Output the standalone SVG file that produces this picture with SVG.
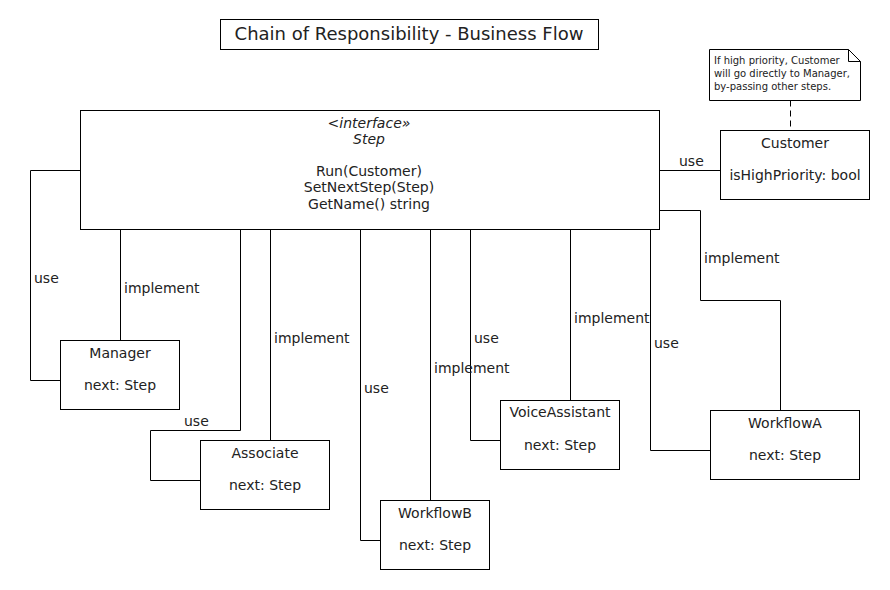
<svg xmlns="http://www.w3.org/2000/svg" width="890" height="590" viewBox="0 0 890 590">
<style>
text{font-family:"DejaVu Sans",sans-serif;font-size:14px;fill:#222}
.c{text-anchor:middle}
.i{font-style:italic}
.box{fill:#fff;stroke:#000;stroke-width:1}
.ln{fill:none;stroke:#000;stroke-width:1}
.note{font-size:10px}
</style>
<rect width="890" height="590" fill="#fff"/>
<g id="title">
<rect class="box" x="220.5" y="19.5" width="378" height="30"/>
<text class="c" x="409" y="40" style="font-size:18px">Chain of Responsibility - Business Flow</text>
</g>
<g id="connectors">
<path class="ln" d="M659.5,170.5H720.5"/>
<text x="679" y="166">use</text>
<path class="ln" d="M659.5,210.5H700.5V300.5H780.5V410.5"/>
<text x="704" y="263">implement</text>
<path class="ln" d="M650.5,229.5V450.5H710.5"/>
<text x="654" y="348">use</text>
<path class="ln" d="M570.5,229.5V400.5"/>
<text x="574" y="323">implement</text>
<path class="ln" d="M470.5,229.5V440.5H500.5"/>
<text x="474" y="343">use</text>
<path class="ln" d="M430.5,229.5V500.5"/>
<text x="434" y="373">implement</text>
<path class="ln" d="M360.5,229.5V540.5H380.5"/>
<text x="364" y="393">use</text>
<path class="ln" d="M270.5,229.5V440.5"/>
<text x="274" y="343">implement</text>
<path class="ln" d="M240.5,229.5V430.5H150.5V480.5H200.5"/>
<text x="184" y="426">use</text>
<path class="ln" d="M120.5,229.5V340.5"/>
<text x="124" y="293">implement</text>
<path class="ln" d="M80.5,170.5H30.5V380.5H60.5"/>
<text x="34" y="283">use</text>
<path class="ln" d="M790.5,100.5V130.5" stroke-dasharray="6,4"/>
</g>
<g id="Step">
<rect class="box" x="80.5" y="110.5" width="579" height="119"/>
<text class="c i" x="369" y="128">&lt;interface»</text>
<text class="c i" x="369" y="144">Step</text>
<text class="c" x="369" y="176">Run(Customer)</text>
<text class="c" x="369" y="192">SetNextStep(Step)</text>
<text class="c" x="369" y="209">GetName() string</text>
</g>
<g id="note">
<path class="box" d="M709.5,49.5H848.5L860.5,61.5V100.5H709.5Z"/>
<path class="ln" d="M848.5,49.5V61.5H860.5"/>
<text class="note" x="714" y="64">If high priority, Customer</text>
<text class="note" x="714" y="77">will go directly to Manager,</text>
<text class="note" x="714" y="90">by-passing other steps.</text>
</g>
<g id="Customer">
<rect class="box" x="720.5" y="130.5" width="149" height="69"/>
<text class="c" x="795" y="148">Customer</text>
<text class="c" x="795" y="180">isHighPriority: bool</text>
</g>
<g id="WorkflowA">
<rect class="box" x="710.5" y="410.5" width="149" height="69"/>
<text class="c" x="785" y="428">WorkflowA</text>
<text class="c" x="785" y="460">next: Step</text>
</g>
<g id="VoiceAssistant">
<rect class="box" x="500.5" y="400.5" width="119" height="69"/>
<text class="c" x="560" y="417">VoiceAssistant</text>
<text class="c" x="560" y="450">next: Step</text>
</g>
<g id="WorkflowB">
<rect class="box" x="380.5" y="500.5" width="109" height="69"/>
<text class="c" x="435" y="518">WorkflowB</text>
<text class="c" x="435" y="550">next: Step</text>
</g>
<g id="Associate">
<rect class="box" x="200.5" y="440.5" width="129" height="69"/>
<text class="c" x="265" y="458">Associate</text>
<text class="c" x="265" y="490">next: Step</text>
</g>
<g id="Manager">
<rect class="box" x="60.5" y="340.5" width="119" height="69"/>
<text class="c" x="120" y="358">Manager</text>
<text class="c" x="120" y="390">next: Step</text>
</g>
</svg>
